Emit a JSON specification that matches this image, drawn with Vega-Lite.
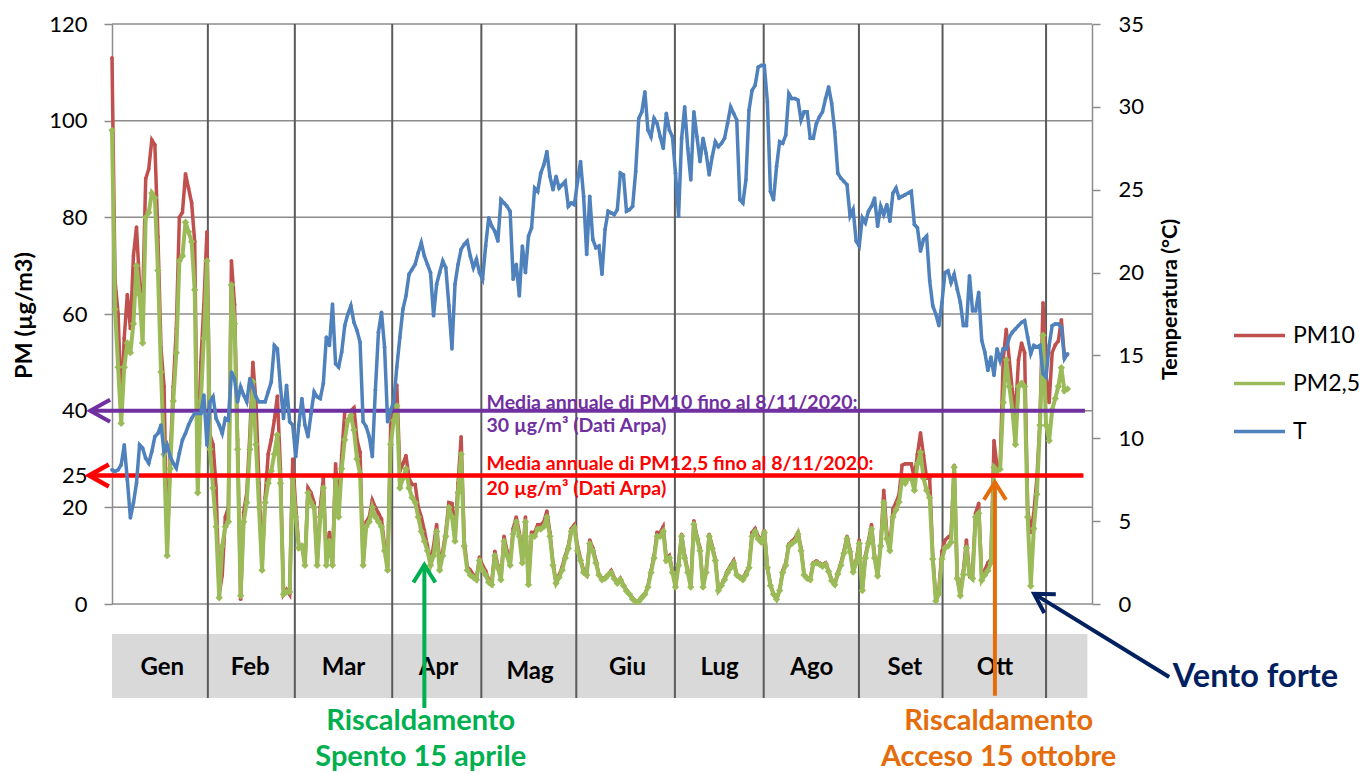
{
"$schema": "https://vega.github.io/schema/vega-lite/v6.json",
"width": 980, "height": 580,
"autosize": {"type": "none"},
"padding": {"left": 112, "top": 24, "right": 267, "bottom": 170},
"background": "white",
"config": {"view": {"stroke": null}, "font": "Lato"},
"datasets": {
"serie": [
{"d":0,"pm10":113,"pm25":98,"t":8.1},{"d":1,"pm10":67,"pm25":61,"t":8.0},{"d":2,"pm10":60,"pm25":49,"t":8.1},{"d":3,"pm10":41,"pm25":37.4,"t":8.4},{"d":4,"pm10":55,"pm25":49,"t":9.6},{"d":5,"pm10":64,"pm25":54,"t":7.5},{"d":6,"pm10":57,"pm25":52,"t":5.2},{"d":7,"pm10":72,"pm25":58,"t":6.1},{"d":8,"pm10":78,"pm25":70,"t":7.3},{"d":9,"pm10":66,"pm25":64,"t":9.6},
{"d":10,"pm10":62,"pm25":54,"t":9.4},{"d":11,"pm10":88,"pm25":80,"t":8.8},{"d":12,"pm10":90,"pm25":81,"t":8.5},{"d":13,"pm10":96,"pm25":85,"t":9.2},{"d":14,"pm10":95,"pm25":84,"t":10.1},{"d":15,"pm10":76,"pm25":69,"t":10.3},{"d":16,"pm10":53,"pm25":48,"t":10.8},{"d":17,"pm10":45,"pm25":31,"t":9.2},{"d":18,"pm10":11,"pm25":10,"t":9.6},{"d":19,"pm10":30,"pm25":28,"t":8.9},
{"d":20,"pm10":45,"pm25":42,"t":8.5},{"d":21,"pm10":57,"pm25":52,"t":8.2},{"d":22,"pm10":80,"pm25":71,"t":9.1},{"d":23,"pm10":81,"pm25":72,"t":9.9},{"d":24,"pm10":89,"pm25":79,"t":10.3},{"d":25,"pm10":86,"pm25":77,"t":10.8},{"d":26,"pm10":83,"pm25":75,"t":11.2},{"d":27,"pm10":75,"pm25":65,"t":11.5},{"d":28,"pm10":24,"pm25":23,"t":11.5},{"d":29,"pm10":50,"pm25":42,"t":11.5},
{"d":30,"pm10":62,"pm25":55,"t":12.6},{"d":31,"pm10":77,"pm25":71,"t":9.6},{"d":32,"pm10":35,"pm25":32,"t":12.2},{"d":33,"pm10":33,"pm25":24,"t":12.5},{"d":34,"pm10":24,"pm25":16,"t":11.2},{"d":35,"pm10":2,"pm25":1.3,"t":10.8},{"d":36,"pm10":6,"pm25":12,"t":10.3},{"d":37,"pm10":18,"pm25":16,"t":11.2},{"d":38,"pm10":20,"pm25":17,"t":11.1},{"d":39,"pm10":71,"pm25":66,"t":14.0},
{"d":40,"pm10":62,"pm25":58,"t":13.6},{"d":41,"pm10":34,"pm25":32,"t":12.2},{"d":42,"pm10":1,"pm25":1.7,"t":13.1},{"d":43,"pm10":19,"pm25":17,"t":12.6},{"d":44,"pm10":23,"pm25":21,"t":12.2},{"d":45,"pm10":35,"pm25":32,"t":13.6},{"d":46,"pm10":50,"pm25":46,"t":13.1},{"d":47,"pm10":42,"pm25":33,"t":12.5},{"d":48,"pm10":25,"pm25":20,"t":12.2},{"d":49,"pm10":8,"pm25":7,"t":12.2},
{"d":50,"pm10":22,"pm25":21,"t":12.2},{"d":51,"pm10":31,"pm25":25,"t":12.8},{"d":52,"pm10":34,"pm25":27.5,"t":13.4},{"d":53,"pm10":38,"pm25":31,"t":15.6},{"d":54,"pm10":43,"pm25":35,"t":15.4},{"d":55,"pm10":28,"pm25":25,"t":13.1},{"d":56,"pm10":2,"pm25":2,"t":11.2},{"d":57,"pm10":3,"pm25":2.5,"t":13.2},{"d":58,"pm10":2,"pm25":2.5,"t":11.0},{"d":59,"pm10":30,"pm25":26,"t":10.8},
{"d":60,"pm10":20,"pm25":18,"t":8.9},{"d":61,"pm10":12,"pm25":11.6,"t":10.8},{"d":62,"pm10":12,"pm25":12,"t":12.4},{"d":63,"pm10":8.5,"pm25":8,"t":10.8},{"d":64,"pm10":24,"pm25":23,"t":10.1},{"d":65,"pm10":23,"pm25":21,"t":11.5},{"d":66,"pm10":21,"pm25":20,"t":12.8},{"d":67,"pm10":8.5,"pm25":8,"t":12.5},{"d":68,"pm10":20,"pm25":18,"t":12.4},{"d":69,"pm10":26,"pm25":24,"t":13.3},
{"d":70,"pm10":9.3,"pm25":8,"t":16.1},{"d":71,"pm10":14.8,"pm25":13,"t":15.6},{"d":72,"pm10":8.5,"pm25":8,"t":18.1},{"d":73,"pm10":29,"pm25":26,"t":14.5},{"d":74,"pm10":19.6,"pm25":18,"t":14.3},{"d":75,"pm10":30.7,"pm25":28,"t":15.2},{"d":76,"pm10":39.8,"pm25":34,"t":16.8},{"d":77,"pm10":40,"pm25":38,"t":17.5},{"d":78,"pm10":40,"pm25":39,"t":18.0},{"d":79,"pm10":40.6,"pm25":36,"t":17.0},
{"d":80,"pm10":34,"pm25":30,"t":16.5},{"d":81,"pm10":31.4,"pm25":27,"t":15.8},{"d":82,"pm10":8.5,"pm25":8,"t":11.0},{"d":83,"pm10":17,"pm25":16,"t":10.7},{"d":84,"pm10":18,"pm25":17,"t":10.1},{"d":85,"pm10":21.5,"pm25":20,"t":8.9},{"d":86,"pm10":20,"pm25":18,"t":12.9},{"d":87,"pm10":18.8,"pm25":17,"t":16.4},{"d":88,"pm10":17.6,"pm25":16,"t":17.6},{"d":89,"pm10":12,"pm25":11,"t":15.5},
{"d":90,"pm10":7.7,"pm25":7,"t":11.0},{"d":91,"pm10":37,"pm25":33,"t":11.7},{"d":92,"pm10":41,"pm25":38,"t":12.2},{"d":93,"pm10":45.3,"pm25":41,"t":14.3},{"d":94,"pm10":27.5,"pm25":24,"t":16.1},{"d":95,"pm10":29,"pm25":26,"t":17.8},{"d":96,"pm10":30.7,"pm25":28,"t":18.6},{"d":97,"pm10":26,"pm25":24,"t":19.9},{"d":98,"pm10":24.7,"pm25":22,"t":20.2},{"d":99,"pm10":24.7,"pm25":21,"t":20.5},
{"d":100,"pm10":20,"pm25":18,"t":21.2},{"d":101,"pm10":18,"pm25":15,"t":21.8},{"d":102,"pm10":15.2,"pm25":13,"t":21.0},{"d":103,"pm10":12,"pm25":11,"t":20.5},{"d":104,"pm10":8.5,"pm25":8,"t":20.0},{"d":105,"pm10":12,"pm25":10,"t":17.4},{"d":106,"pm10":16.4,"pm25":15,"t":19.3},{"d":107,"pm10":8.5,"pm25":7,"t":20.0},{"d":108,"pm10":10.9,"pm25":10,"t":20.7},{"d":109,"pm10":15,"pm25":14,"t":20.3},
{"d":110,"pm10":21,"pm25":20,"t":18.0},{"d":111,"pm10":20.8,"pm25":18,"t":15.4},{"d":112,"pm10":14.4,"pm25":13,"t":19.3},{"d":113,"pm10":25,"pm25":23,"t":20.5},{"d":114,"pm10":34.6,"pm25":31,"t":21.4},{"d":115,"pm10":13.2,"pm25":12,"t":21.7},{"d":116,"pm10":7.7,"pm25":7,"t":21.9},{"d":117,"pm10":7,"pm25":6,"t":21.0},{"d":118,"pm10":6,"pm25":5.5,"t":20.3},{"d":119,"pm10":5.3,"pm25":5,"t":20.8},
{"d":120,"pm10":9.7,"pm25":9,"t":20.0},{"d":121,"pm10":8,"pm25":7,"t":19.6},{"d":122,"pm10":6.9,"pm25":6,"t":21.6},{"d":123,"pm10":5,"pm25":4.5,"t":23.3},{"d":124,"pm10":4.5,"pm25":4,"t":22.8},{"d":125,"pm10":10.9,"pm25":10,"t":22.5},{"d":126,"pm10":8,"pm25":7.5,"t":21.9},{"d":127,"pm10":5.3,"pm25":5,"t":24.4},{"d":128,"pm10":14,"pm25":13,"t":24.2},{"d":129,"pm10":11,"pm25":10,"t":24.0},
{"d":130,"pm10":8.5,"pm25":8,"t":23.7},{"d":131,"pm10":15.6,"pm25":14.5,"t":19.6},{"d":132,"pm10":18,"pm25":17,"t":20.5},{"d":133,"pm10":14.8,"pm25":14,"t":18.6},{"d":134,"pm10":9,"pm25":8.5,"t":21.6},{"d":135,"pm10":18,"pm25":17,"t":20.0},{"d":136,"pm10":4.5,"pm25":4,"t":22.2},{"d":137,"pm10":14.8,"pm25":14,"t":22.7},{"d":138,"pm10":14.8,"pm25":14,"t":25.1},{"d":139,"pm10":16.4,"pm25":15.5,"t":24.9},
{"d":140,"pm10":16.4,"pm25":15.5,"t":26.0},{"d":141,"pm10":17,"pm25":16,"t":26.5},{"d":142,"pm10":19.2,"pm25":18,"t":27.3},{"d":143,"pm10":14.8,"pm25":14,"t":25.8},{"d":144,"pm10":8.5,"pm25":8,"t":25.0},{"d":145,"pm10":4.5,"pm25":4.3,"t":25.8},{"d":146,"pm10":6,"pm25":5.5,"t":25.1},{"d":147,"pm10":7.7,"pm25":7,"t":25.3},{"d":148,"pm10":10,"pm25":9.5,"t":25.5},{"d":149,"pm10":12,"pm25":11.5,"t":24.0},
{"d":150,"pm10":15.6,"pm25":15,"t":24.2},{"d":151,"pm10":16.4,"pm25":15.8,"t":24.1},{"d":152,"pm10":12,"pm25":11,"t":25.5},{"d":153,"pm10":9.3,"pm25":9,"t":26.7},{"d":154,"pm10":7,"pm25":6.5,"t":24.6},{"d":155,"pm10":6.1,"pm25":6,"t":21.1},{"d":156,"pm10":13.2,"pm25":12.5,"t":24.6},{"d":157,"pm10":11.6,"pm25":11,"t":22.0},{"d":158,"pm10":9,"pm25":8.5,"t":21.5},{"d":159,"pm10":6.1,"pm25":6,"t":21.6},
{"d":160,"pm10":5.3,"pm25":5,"t":19.9},{"d":161,"pm10":5.5,"pm25":5.3,"t":22.6},{"d":162,"pm10":6.1,"pm25":6,"t":23.7},{"d":163,"pm10":6.9,"pm25":6.5,"t":23.6},{"d":164,"pm10":5.5,"pm25":5.2,"t":23.5},{"d":165,"pm10":4.5,"pm25":4.3,"t":23.8},{"d":166,"pm10":5.3,"pm25":5,"t":26.0},{"d":167,"pm10":4,"pm25":3.8,"t":25.9},{"d":168,"pm10":2.9,"pm25":2.7,"t":23.7},{"d":169,"pm10":2.1,"pm25":2,"t":23.8},
{"d":170,"pm10":1.2,"pm25":1,"t":24.0},{"d":171,"pm10":0.6,"pm25":0.5,"t":26.1},{"d":172,"pm10":0.6,"pm25":0.5,"t":29.3},{"d":173,"pm10":1.5,"pm25":1.3,"t":29.7},{"d":174,"pm10":2.1,"pm25":2,"t":30.9},{"d":175,"pm10":3.7,"pm25":3.5,"t":28.6},{"d":176,"pm10":6.9,"pm25":6.5,"t":28.2},{"d":177,"pm10":10,"pm25":9.5,"t":29.3},{"d":178,"pm10":14.8,"pm25":14,"t":29.0},{"d":179,"pm10":14.8,"pm25":14,"t":28.2},
{"d":180,"pm10":16,"pm25":15,"t":27.5},{"d":181,"pm10":9.3,"pm25":9,"t":29.6},{"d":182,"pm10":10,"pm25":9.5,"t":28.6},{"d":183,"pm10":7,"pm25":6.5,"t":28.2},{"d":184,"pm10":3.7,"pm25":3.5,"t":26.0},{"d":185,"pm10":8.5,"pm25":8,"t":23.4},{"d":186,"pm10":14.4,"pm25":14,"t":28.1},{"d":187,"pm10":10,"pm25":9.5,"t":30.0},{"d":188,"pm10":6.9,"pm25":6.5,"t":27.5},{"d":189,"pm10":3.7,"pm25":3.5,"t":25.6},
{"d":190,"pm10":17.2,"pm25":16.5,"t":29.7},{"d":191,"pm10":14,"pm25":13.5,"t":28.2},{"d":192,"pm10":11.6,"pm25":11,"t":26.7},{"d":193,"pm10":3.7,"pm25":3.5,"t":28.1},{"d":194,"pm10":6.9,"pm25":6.5,"t":27.2},{"d":195,"pm10":14.4,"pm25":14,"t":25.9},{"d":196,"pm10":12,"pm25":11.5,"t":27.0},{"d":197,"pm10":9.3,"pm25":9,"t":27.9},{"d":198,"pm10":2.9,"pm25":2.8,"t":27.6},{"d":199,"pm10":4,"pm25":3.8,"t":27.8},
{"d":200,"pm10":5.3,"pm25":5,"t":28.1},{"d":201,"pm10":6.9,"pm25":6.5,"t":29.0},{"d":202,"pm10":8,"pm25":7.5,"t":30.0},{"d":203,"pm10":9,"pm25":8.5,"t":29.6},{"d":204,"pm10":6.1,"pm25":6,"t":29.2},{"d":205,"pm10":5.7,"pm25":5.5,"t":24.4},{"d":206,"pm10":5.3,"pm25":5,"t":24.2},{"d":207,"pm10":6.5,"pm25":6,"t":25.6},{"d":208,"pm10":7.7,"pm25":7.5,"t":29.8},{"d":209,"pm10":14.8,"pm25":14,"t":31.0},
{"d":210,"pm10":15.6,"pm25":15,"t":31.3},{"d":211,"pm10":14,"pm25":13.5,"t":32.4},{"d":212,"pm10":13.2,"pm25":12.8,"t":32.5},{"d":213,"pm10":15.2,"pm25":14.8,"t":32.5},{"d":214,"pm10":7.7,"pm25":7.5,"t":30.3},{"d":215,"pm10":4,"pm25":3.8,"t":24.9},{"d":216,"pm10":2.1,"pm25":2,"t":24.4},{"d":217,"pm10":1,"pm25":1,"t":26.4},{"d":218,"pm10":2.9,"pm25":2.8,"t":27.9},{"d":219,"pm10":6.9,"pm25":6.5,"t":27.8},
{"d":220,"pm10":8.5,"pm25":8,"t":28.3},{"d":221,"pm10":12.4,"pm25":12,"t":30.8},{"d":222,"pm10":13,"pm25":12.5,"t":30.5},{"d":223,"pm10":13.6,"pm25":13,"t":30.5},{"d":224,"pm10":14.8,"pm25":14.5,"t":30.4},{"d":225,"pm10":11.6,"pm25":11,"t":29.2},{"d":226,"pm10":6.1,"pm25":6,"t":29.7},{"d":227,"pm10":5.5,"pm25":5.3,"t":29.7},{"d":228,"pm10":5.3,"pm25":5,"t":28.1},{"d":229,"pm10":8.5,"pm25":8.2,"t":28.1},
{"d":230,"pm10":8.9,"pm25":8.5,"t":29.0},{"d":231,"pm10":8.5,"pm25":8.2,"t":29.4},{"d":232,"pm10":8.1,"pm25":7.8,"t":29.7},{"d":233,"pm10":8.5,"pm25":8.2,"t":30.5},{"d":234,"pm10":6.9,"pm25":6.7,"t":31.2},{"d":235,"pm10":5,"pm25":4.8,"t":30.2},{"d":236,"pm10":4.1,"pm25":4,"t":28.5},{"d":237,"pm10":6.5,"pm25":6.2,"t":26.0},{"d":238,"pm10":8.5,"pm25":8,"t":25.7},{"d":239,"pm10":11,"pm25":10.5,"t":25.5},
{"d":240,"pm10":14,"pm25":13.5,"t":25.3},{"d":241,"pm10":11.2,"pm25":10.8,"t":23.4},{"d":242,"pm10":6.9,"pm25":6.6,"t":23.8},{"d":243,"pm10":9,"pm25":8.5,"t":21.9},{"d":244,"pm10":13.2,"pm25":12.5,"t":21.6},{"d":245,"pm10":2.9,"pm25":2.8,"t":23.3},{"d":246,"pm10":10,"pm25":9.5,"t":23.0},{"d":247,"pm10":13,"pm25":12.5,"t":23.7},{"d":248,"pm10":16.4,"pm25":15.5,"t":24.0},{"d":249,"pm10":10,"pm25":9.5,"t":24.5},
{"d":250,"pm10":6.1,"pm25":5.8,"t":22.8},{"d":251,"pm10":12.4,"pm25":12,"t":24.0},{"d":252,"pm10":23.5,"pm25":21,"t":23.5},{"d":253,"pm10":14.8,"pm25":13.5,"t":24.1},{"d":254,"pm10":11.6,"pm25":11,"t":23.1},{"d":255,"pm10":19.6,"pm25":18,"t":24.8},{"d":256,"pm10":21,"pm25":19.5,"t":25.1},{"d":257,"pm10":22.7,"pm25":21.1,"t":24.5},{"d":258,"pm10":28.7,"pm25":26,"t":24.6},{"d":259,"pm10":29,"pm25":25,"t":24.7},
{"d":260,"pm10":29,"pm25":26,"t":24.8},{"d":261,"pm10":29,"pm25":26,"t":24.9},{"d":262,"pm10":26,"pm25":23.5,"t":22.9},{"d":263,"pm10":31,"pm25":29,"t":22.7},{"d":264,"pm10":35.4,"pm25":31.4,"t":21.3},{"d":265,"pm10":30.7,"pm25":26,"t":22.0},{"d":266,"pm10":26,"pm25":23.5,"t":22.2},{"d":267,"pm10":26,"pm25":22,"t":19.5},{"d":268,"pm10":10,"pm25":9.3,"t":18.0},{"d":269,"pm10":1.3,"pm25":0.6,"t":17.5},
{"d":270,"pm10":2.9,"pm25":2.1,"t":16.8},{"d":271,"pm10":10.9,"pm25":9.3,"t":18.2},{"d":272,"pm10":13.2,"pm25":11.6,"t":20.0},{"d":273,"pm10":13.8,"pm25":12,"t":20.1},{"d":274,"pm10":14.4,"pm25":12.8,"t":19.4},{"d":275,"pm10":28.7,"pm25":28.3,"t":19.9},{"d":276,"pm10":5.3,"pm25":5.3,"t":19.0},{"d":277,"pm10":2.1,"pm25":1.7,"t":18.2},{"d":278,"pm10":6.9,"pm25":6.1,"t":16.8},{"d":279,"pm10":13.2,"pm25":11.6,"t":16.8},
{"d":280,"pm10":6.1,"pm25":6.1,"t":19.8},{"d":281,"pm10":6.9,"pm25":5.3,"t":17.7},{"d":282,"pm10":18.8,"pm25":18,"t":17.7},{"d":283,"pm10":20.8,"pm25":18.8,"t":18.8},{"d":284,"pm10":5.3,"pm25":4.9,"t":15.9},{"d":285,"pm10":7,"pm25":6,"t":15.2},{"d":286,"pm10":8.5,"pm25":6.9,"t":14.1},{"d":287,"pm10":9.3,"pm25":8.5,"t":14.9},{"d":288,"pm10":33.8,"pm25":28.3,"t":13.8},{"d":289,"pm10":28.3,"pm25":27.5,"t":15.4},
{"d":290,"pm10":28.3,"pm25":27.9,"t":14.7},{"d":291,"pm10":50.5,"pm25":41.7,"t":15.4},{"d":292,"pm10":56.8,"pm25":50.5,"t":15.4},{"d":293,"pm10":50.5,"pm25":45,"t":16.1},{"d":294,"pm10":44,"pm25":40.2,"t":16.4},{"d":295,"pm10":39.4,"pm25":33,"t":16.6},{"d":296,"pm10":50.5,"pm25":45,"t":16.8},{"d":297,"pm10":54,"pm25":45.7,"t":17.0},{"d":298,"pm10":52,"pm25":45,"t":17.1},{"d":299,"pm10":19.6,"pm25":18,"t":16.1},
{"d":300,"pm10":14.8,"pm25":3.7,"t":15.1},{"d":301,"pm10":18.8,"pm25":15.6,"t":15.6},{"d":302,"pm10":26,"pm25":22.7,"t":15.5},{"d":303,"pm10":37.8,"pm25":37,"t":15.6},{"d":304,"pm10":62.3,"pm25":55.6,"t":13.9},{"d":305,"pm10":47.3,"pm25":37,"t":13.7},{"d":306,"pm10":41.7,"pm25":33.8,"t":15.6},{"d":307,"pm10":52,"pm25":40.2,"t":16.8},{"d":308,"pm10":53.6,"pm25":42.5,"t":16.9},{"d":309,"pm10":54.4,"pm25":45,"t":16.9},
{"d":310,"pm10":58.8,"pm25":48.9,"t":16.7},{"d":311,"pm10":51.2,"pm25":44.1,"t":14.8},{"d":312,"pm10":51.6,"pm25":44.5,"t":15.1}
],
"grid": [{"v":0},{"v":20},{"v":40},{"v":60},{"v":80},{"v":100},{"v":120}],
"band": [{"x0":0,"x1":318.5,"y0":-6.2,"y1":-19.45}],
"months": [{"x":31.3},{"x":59.7},{"x":91.5},{"x":120.6},{"x":151.6},{"x":183.8},{"x":212.8},{"x":243.9},{"x":271.2},{"x":305.0}],
"mlabels": [{"m":"Gen","x":16.4,"y":-13.2},{"m":"Feb","x":45.1,"y":-13.2},{"m":"Mar","x":75.6,"y":-13.2},{"m":"Apr","x":106.6,"y":-13.2},{"m":"Mag","x":136.5,"y":-14.0},{"m":"Giu","x":168.3,"y":-13.2},{"m":"Lug","x":198.4,"y":-13.2},{"m":"Ago","x":228.5,"y":-13.2},{"m":"Set","x":258.9,"y":-13.2},{"m":"Ott","x":288.3,"y":-13.2}],
"purple": [{"x":-7.1,"x2":317.7,"y":40}],
"red": [{"x":-7.5,"x2":317.2,"y":26.6}],
"purpletext": [{"x":122.3,"y":41.65,"s":"Media annuale di PM10  fino al 8/11/2020:"},{"x":122.3,"y":36.75,"s":"30 µg/m³ (Dati Arpa)"}],
"redtext": [{"x":122.3,"y":28.97,"s":"Media annuale di PM12,5 fino al 8/11/2020:"},{"x":122.3,"y":23.84,"s":"20 µg/m³ (Dati Arpa)"}],
"green": [{"x":102.0,"y":8.1,"y2":-21.5}],
"greentext": [{"x":100.8,"y":-24.2,"s":"Riscaldamento"},{"x":100.8,"y":-31.6,"s":"Spento 15 aprile"}],
"orange": [{"x":288.3,"y":25.2,"y2":-19.0}],
"orangetext": [{"x":289.5,"y":-24.2,"s":"Riscaldamento"},{"x":289.5,"y":-31.6,"s":"Acceso 15 ottobre"}],
"navy": [{"x":301.1,"y":2.1,"x2":345.2,"y2":-15.1}],
"navytext": [{"x":346.4,"y":-15.0,"s":"Vento forte"}]
},
"layer": [
{
"layer": [
{"data": {"name": "grid"}, "mark": {"type": "rule", "color": "#8c8c8c", "strokeWidth": 1.5},
 "encoding": {"y": {"field": "v", "type": "quantitative", "scale": {"domain": [0, 120], "nice": false, "zero": false},
   "axis": {"orient": "left", "values": [0, 20, 26.6, 40, 60, 80, 100, 120], "labelExpr": "datum.value == 26.6 ? '25' : datum.label", "grid": false, "labelFontSize": 22, "labelColor": "#000000", "labelFont": "Lato", "tickSize": 8, "tickColor": "#8c8c8c", "tickWidth": 1.5, "domainColor": "#8c8c8c", "domainWidth": 1.5, "labelPadding": 17, "title": "PM (µg/m3)", "titleFontSize": 23.5, "titleFont": "Lato", "titleFontWeight": "bold", "titleColor": "#000000", "titleAngle": 270, "titleBaseline": "middle", "titleAlign": "center", "titleX": -88, "titleY": 291}}}},
{"data": {"name": "band"}, "mark": {"type": "rect", "color": "#d9d9d9"},
 "encoding": {"x": {"field": "x0", "type": "quantitative", "axis": null}, "x2": {"field": "x1"}, "y": {"field": "y0", "type": "quantitative"}, "y2": {"field": "y1"}}},
{"data": {"name": "months"}, "mark": {"type": "rule", "color": "#5a5a5a", "strokeWidth": 2},
 "encoding": {"x": {"field": "x", "type": "quantitative", "scale": {"domain": [0, 320], "nice": false, "zero": false},
  "axis": {"values": [0,10,20,30,40,50,60,70,80,90,100,110,120,130,140,150,160,170,180,190,200,210,220,230,240,250,260,270,280,290,300,310,320], "labels": false, "title": null, "grid": false, "tickSize": 7, "tickColor": "#8c8c8c", "tickWidth": 1.5, "domainColor": "#8c8c8c", "domainWidth": 1.5}},
  "y": {"datum": 120, "type": "quantitative"}, "y2": {"datum": -19.45}}},
{"data": {"name": "mlabels"}, "mark": {"type": "text", "fontSize": 24, "fontWeight": "bold", "font": "Lato", "color": "#000000", "baseline": "middle", "align": "center"},
 "encoding": {"x": {"field": "x", "type": "quantitative", "axis": null}, "y": {"field": "y", "type": "quantitative"}, "text": {"field": "m"}}},
{"data": {"name": "serie"}, "mark": {"type": "line", "strokeWidth": 3.5, "point": {"size": 14, "filled": true, "opacity": 1}},
 "encoding": {"x": {"field": "d", "type": "quantitative", "axis": null},
  "y": {"field": "pm10", "type": "quantitative"},
  "color": {"datum": "PM10", "type": "nominal", "scale": {"domain": ["PM10", "PM2,5", "T"], "range": ["#C0504D", "#9BBB59", "#4F81BD"]},
   "legend": {"orient": "none", "legendX": 1120, "legendY": 284, "title": null, "labelFontSize": 23, "labelFont": "Lato", "labelColor": "#000000", "symbolType": "M-1,0L1,0", "symbolSize": 2600, "symbolStrokeWidth": 3.5, "rowPadding": 8, "labelOffset": 6}}}},
{"data": {"name": "serie"}, "mark": {"type": "line", "strokeWidth": 4, "point": {"shape": "diamond", "size": 55, "filled": true, "opacity": 1}},
 "encoding": {"x": {"field": "d", "type": "quantitative", "axis": null}, "y": {"field": "pm25", "type": "quantitative"},
  "color": {"datum": "PM2,5", "type": "nominal"}}},
{"data": {"name": "purple"}, "mark": {"type": "rule", "color": "#7030A0", "strokeWidth": 4},
 "encoding": {"x": {"field": "x", "type": "quantitative", "axis": null}, "x2": {"field": "x2"}, "y": {"field": "y", "type": "quantitative"}}},
{"data": {"name": "purple"}, "mark": {"type": "point", "shape": "M1.8,-1L0,0L1.8,1", "filled": false, "size": 484, "strokeWidth": 4, "color": "#7030A0", "opacity": 1},
 "encoding": {"x": {"field": "x", "type": "quantitative", "axis": null}, "y": {"field": "y", "type": "quantitative"}}},
{"data": {"name": "red"}, "mark": {"type": "rule", "color": "#FF0000", "strokeWidth": 4.5},
 "encoding": {"x": {"field": "x", "type": "quantitative", "axis": null}, "x2": {"field": "x2"}, "y": {"field": "y", "type": "quantitative"}}},
{"data": {"name": "red"}, "mark": {"type": "point", "shape": "M1.8,-1L0,0L1.8,1", "filled": false, "size": 484, "strokeWidth": 4.5, "color": "#FF0000", "opacity": 1},
 "encoding": {"x": {"field": "x", "type": "quantitative", "axis": null}, "y": {"field": "y", "type": "quantitative"}}},
{"data": {"name": "purpletext"}, "mark": {"type": "text", "fontSize": 19.5, "fontWeight": "bold", "font": "Lato", "color": "#7030A0", "align": "left", "baseline": "middle"},
 "encoding": {"x": {"field": "x", "type": "quantitative", "axis": null}, "y": {"field": "y", "type": "quantitative"}, "text": {"field": "s"}}},
{"data": {"name": "redtext"}, "mark": {"type": "text", "fontSize": 19.5, "fontWeight": "bold", "font": "Lato", "color": "#FF0000", "align": "left", "baseline": "middle"},
 "encoding": {"x": {"field": "x", "type": "quantitative", "axis": null}, "y": {"field": "y", "type": "quantitative"}, "text": {"field": "s"}}},
{"data": {"name": "green"}, "mark": {"type": "rule", "color": "#00B050", "strokeWidth": 4},
 "encoding": {"x": {"field": "x", "type": "quantitative", "axis": null}, "y": {"field": "y", "type": "quantitative"}, "y2": {"field": "y2"}}},
{"data": {"name": "green"}, "mark": {"type": "point", "shape": "M-1,1.6L0,0L1,1.6", "filled": false, "size": 484, "strokeWidth": 4, "color": "#00B050", "opacity": 1},
 "encoding": {"x": {"field": "x", "type": "quantitative", "axis": null}, "y": {"field": "y", "type": "quantitative"}}},
{"data": {"name": "greentext"}, "mark": {"type": "text", "fontSize": 29, "fontWeight": "bold", "font": "Lato", "color": "#00B050", "align": "center", "baseline": "middle"},
 "encoding": {"x": {"field": "x", "type": "quantitative", "axis": null}, "y": {"field": "y", "type": "quantitative"}, "text": {"field": "s"}}},
{"data": {"name": "orange"}, "mark": {"type": "rule", "color": "#E46C0A", "strokeWidth": 4},
 "encoding": {"x": {"field": "x", "type": "quantitative", "axis": null}, "y": {"field": "y", "type": "quantitative"}, "y2": {"field": "y2"}}},
{"data": {"name": "orange"}, "mark": {"type": "point", "shape": "M-1,1.6L0,0L1,1.6", "filled": false, "size": 484, "strokeWidth": 4, "color": "#E46C0A", "opacity": 1},
 "encoding": {"x": {"field": "x", "type": "quantitative", "axis": null}, "y": {"field": "y", "type": "quantitative"}}},
{"data": {"name": "orangetext"}, "mark": {"type": "text", "fontSize": 29, "fontWeight": "bold", "font": "Lato", "color": "#E46C0A", "align": "center", "baseline": "middle"},
 "encoding": {"x": {"field": "x", "type": "quantitative", "axis": null}, "y": {"field": "y", "type": "quantitative"}, "text": {"field": "s"}}},
{"data": {"name": "navy"}, "mark": {"type": "rule", "color": "#002060", "strokeWidth": 4},
 "encoding": {"x": {"field": "x", "type": "quantitative", "axis": null}, "y": {"field": "y", "type": "quantitative"}, "x2": {"field": "x2"}, "y2": {"field": "y2"}}},
{"data": {"name": "navy"}, "mark": {"type": "point", "shape": "M1.7,-1L0,0L1.7,1", "filled": false, "size": 484, "strokeWidth": 4, "color": "#002060", "opacity": 1, "angle": 31.5},
 "encoding": {"x": {"field": "x", "type": "quantitative", "axis": null}, "y": {"field": "y", "type": "quantitative"}}},
{"data": {"name": "navytext"}, "mark": {"type": "text", "fontSize": 32.5, "fontWeight": "bold", "font": "Lato", "color": "#002060", "align": "left", "baseline": "middle"},
 "encoding": {"x": {"field": "x", "type": "quantitative", "axis": null}, "y": {"field": "y", "type": "quantitative"}, "text": {"field": "s"}}}
]
},
{"data": {"name": "serie"}, "mark": {"type": "line", "strokeWidth": 3.5, "point": {"size": 14, "filled": true, "opacity": 1}},
 "encoding": {"x": {"field": "d", "type": "quantitative", "axis": null},
  "y": {"field": "t", "type": "quantitative", "scale": {"domain": [0, 35], "nice": false, "zero": false},
   "axis": {"orient": "right", "values": [0, 5, 10, 15, 20, 25, 30, 35], "grid": false, "labelFontSize": 22, "labelColor": "#000000", "labelFont": "Lato", "tickSize": 8, "tickColor": "#8c8c8c", "tickWidth": 1.5, "domainColor": "#8c8c8c", "domainWidth": 1.5, "labelPadding": 18, "title": "Temperatura (°C)", "titleAngle": 270, "titleFontSize": 21.5, "titleFont": "Lato", "titleFontWeight": "bold", "titleColor": "#000000", "titleBaseline": "middle", "titleAlign": "center", "titleX": 78, "titleY": 275}},
  "color": {"datum": "T", "type": "nominal"}}}
],
"resolve": {"scale": {"y": "independent"}, "axis": {"y": "independent"}}
}
